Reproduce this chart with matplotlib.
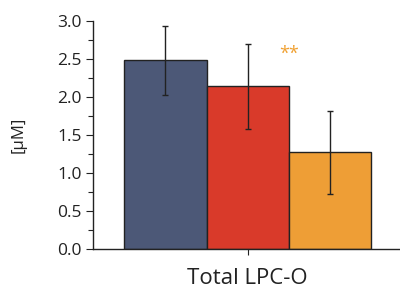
from matplotlib import pyplot as plt
from matplotlib.ticker import MultipleLocator

plt.rcParams['font.family'] = ['Open Sans', 'DejaVu Sans']

category = 'Total LPC-O'
groups = ['group 1', 'group 2', 'group 3']
means = [2.48, 2.14, 1.27]
errors = [0.45, 0.56, 0.55]
colors = ['#4c5877', '#d93a2a', '#ee9e36']
star_label = '**'
star_group = 1
star_height = 2.57

fig = plt.figure(figsize=(4.0, 2.95), dpi=100)
ax = fig.add_axes([0.2325, 0.157, 0.7675, 0.772])

xs = list(range(len(groups)))
ax.bar(xs, means, width=1.0, color=colors, edgecolor='#222222', linewidth=1.0,
       zorder=2)
ax.errorbar(xs, means, yerr=errors, fmt='none', ecolor='#222222',
            elinewidth=1.0, capsize=2.5, capthick=1.0, zorder=3)

ax.text(xs[star_group] + 0.5, star_height, star_label, color='#f0a030',
        ha='center', va='center', fontsize=13)

ax.set_xlim(-0.88, 2.85)
ax.set_ylim(0, 3.0)
ax.set_xticks([1])
ax.set_xticklabels([category], fontsize=16)
ax.yaxis.set_major_locator(MultipleLocator(0.5))
ax.yaxis.set_minor_locator(MultipleLocator(0.25))
ax.set_yticklabels(['%.1f' % v for v in ax.get_yticks()], fontsize=12.5)
ax.tick_params(axis='y', which='major', length=5, width=0.8, direction='out',
               colors='#222222', labelcolor='#222222', pad=3)
ax.tick_params(axis='y', which='minor', length=3.5, width=0.8, direction='out',
               colors='#222222')
ax.tick_params(axis='x', length=4, width=0.8, colors='#222222',
               labelcolor='#222222', pad=10)

ax.set_ylabel('[μM]', fontsize=12, color='#222222', labelpad=22)

for side in ['top', 'right']:
    ax.spines[side].set_visible(False)
for side in ['left', 'bottom']:
    ax.spines[side].set_color('#222222')
    ax.spines[side].set_linewidth(1.0)

plt.savefig('out.png', dpi=100)
